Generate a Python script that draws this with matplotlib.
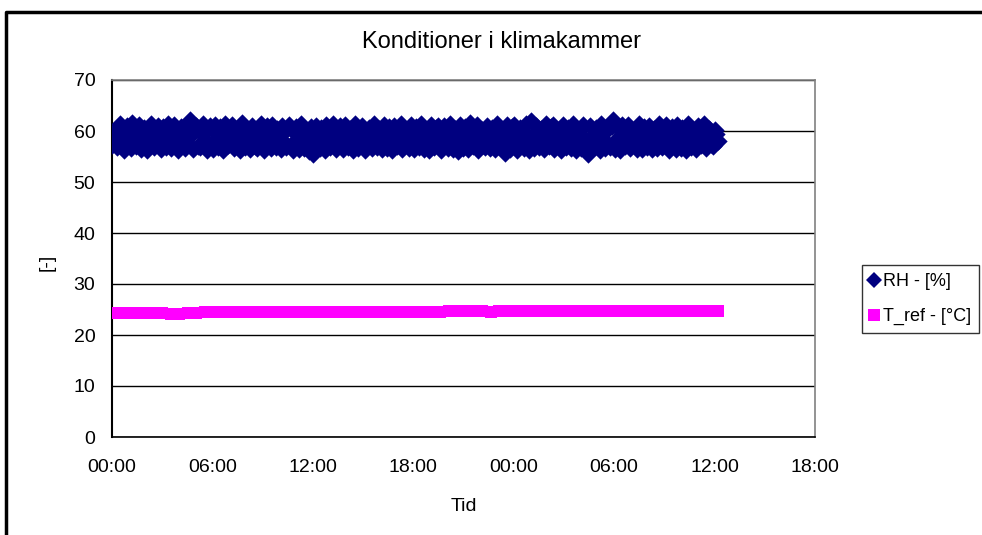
import numpy as np
import matplotlib
matplotlib.use("Agg")
import matplotlib.pyplot as plt
from matplotlib.lines import Line2D

# ---- data ----
rh_values = [
    57.2, 59.8, 58.1, 56.9, 60.4, 61.3, 57.6, 56.2, 59.1, 60.9, 58.4, 56.7, 61.5, 59.3, 57.0, 58.8, 61.2, 56.5, 59.7, 60.6, 57.8, 56.3, 60.1, 61.4, 58.0, 56.8, 59.5, 61.0, 57.3, 56.4, 60.7, 59.0, 56.9, 61.3, 58.6, 56.6, 60.2, 61.1, 57.4, 56.2, 59.9, 60.8, 58.3, 56.7, 61.2,
    57.5, 62.2, 59.2, 56.4, 60.5, 61.0, 57.1, 56.8, 59.6, 61.3, 58.2, 56.3, 60.3, 60.9, 57.7, 56.5, 61.1, 59.4, 56.9, 60.7, 58.5, 56.2, 61.4, 59.0, 57.2, 60.6, 61.2, 56.6, 58.9, 60.1, 57.5, 56.3, 61.5, 59.7, 56.8, 60.4, 58.1, 56.4, 61.0, 59.8, 57.0, 56.7, 60.8, 61.3, 58.6,
    56.3, 59.5, 60.9, 57.4, 56.6, 61.2, 58.7, 56.9, 60.3, 59.1, 56.4, 61.0, 57.9, 56.8, 60.6, 61.1, 57.3, 56.2, 59.8, 60.7, 58.0, 56.5, 61.3, 59.4, 56.7, 60.2, 57.6, 56.1, 60.8, 55.4, 58.9, 61.0, 57.1, 56.6, 60.5, 59.6, 56.3, 61.2, 58.3, 56.9, 60.0, 61.4, 57.5, 56.4, 59.3,
    60.9, 58.0, 56.5, 61.1, 59.7, 56.8, 60.4, 57.2, 56.3, 61.3, 58.8, 56.7, 60.1, 61.0, 57.6, 56.2, 59.5, 60.6, 58.2, 56.6, 61.4, 59.0, 56.9, 60.3, 57.8, 56.4, 61.2, 59.9, 56.6, 60.7, 58.4, 56.3, 61.0, 59.2, 57.0, 60.5, 61.3, 56.5, 58.7, 60.2, 57.3, 56.7, 61.1, 59.6, 56.4,
    60.8, 58.1, 56.9, 61.4, 59.3, 56.5, 60.0, 57.9, 56.2, 61.2, 58.6, 56.8, 60.6, 61.0, 57.4, 56.3, 59.9, 60.9, 58.3, 56.6, 61.3, 59.1, 56.4, 60.4, 57.7, 56.1, 61.1, 59.8, 56.7, 60.7, 58.5, 56.5, 61.5, 59.4, 57.1, 60.3, 61.2, 56.3, 58.8, 60.1, 57.2, 56.8, 61.0, 59.7, 56.6,
    60.5, 58.0, 56.4, 61.3, 59.5, 56.9, 60.2, 57.6, 55.6, 61.1, 58.7, 56.5, 60.8, 61.2, 57.3, 56.2, 59.6, 60.6, 58.4, 56.7, 61.4, 59.2, 56.3, 62.0, 57.9, 56.6, 61.0, 59.9, 56.8, 60.4, 58.2, 56.4, 61.3, 59.0, 57.0, 60.7, 61.1, 56.5, 58.9, 60.0, 57.5, 56.2, 61.2, 59.6, 56.9,
    60.6, 58.3, 56.6, 61.4, 59.1, 56.3, 60.1, 57.8, 56.7, 61.2, 58.5, 56.4, 55.5, 60.9, 57.2, 56.8, 59.7, 60.5, 58.1, 56.2, 61.3, 59.4, 56.6, 60.3, 57.4, 56.9, 61.0, 62.1, 56.5, 60.8, 58.6, 56.3, 61.1, 59.3, 57.1, 60.4, 61.2, 56.7, 58.8, 60.2, 57.6, 56.4, 61.4, 59.8, 56.5,
    60.7, 58.2, 56.8, 61.0, 59.5, 56.4, 60.3, 57.7, 56.6, 61.3, 58.4, 56.9, 60.5, 61.1, 57.3, 56.3, 59.9, 60.8, 58.0, 56.5, 61.2, 59.2, 56.7, 60.6, 57.9, 56.2, 61.4, 59.6, 56.8, 60.0, 58.7, 56.4, 61.0, 59.1, 57.2, 60.9, 61.3, 56.6, 58.3, 60.4, 57.5, 57.0, 60.2, 59.4, 58.1,
]

t_ref_values = [
    24.35, 24.35, 24.35, 24.35, 24.35, 24.35, 24.35, 24.15, 24.15, 24.35,
    24.35, 24.5, 24.5, 24.5, 24.5, 24.5, 24.5, 24.5, 24.5, 24.5,
    24.5, 24.5, 24.5, 24.5, 24.5, 24.5, 24.5, 24.5, 24.5, 24.5,
    24.5, 24.5, 24.5, 24.5, 24.5, 24.5, 24.5, 24.5, 24.5, 24.45,
    24.75, 24.7, 24.7, 24.65, 24.7, 24.6, 24.75, 24.75, 24.75, 24.75,
    24.75, 24.75, 24.75, 24.75, 24.75, 24.75, 24.75, 24.75, 24.75, 24.75,
    24.75, 24.75, 24.75, 24.75, 24.75, 24.75, 24.75, 24.75, 24.75, 24.75,
    24.75, 24.75, 24.75,
]

# measurement period: 00:00 day 1 to about 12:12 day 2 (hours)
t_start_h, t_end_h = 0.0, 36.2
rh_hours = np.linspace(t_start_h, t_end_h, len(rh_values))
tref_hours = np.linspace(t_start_h, t_end_h, len(t_ref_values))

x_ticks = [0, 6, 12, 18, 24, 30, 36, 42]
x_tick_labels = ["00:00", "06:00", "12:00", "18:00", "00:00", "06:00", "12:00", "18:00"]
y_ticks = [0, 10, 20, 30, 40, 50, 60, 70]

title = "Konditioner i klimakammer"
x_label = "Tid"
y_label = "[-]"
rh_label = "RH - [%]"
tref_label = "T_ref - [°C]"

# ---- figure ----
plt.rcParams["font.family"] = ["Liberation Sans", "DejaVu Sans"]
W, H = 982, 535
fig = plt.figure(figsize=(W / 100, H / 100), dpi=100)

ax = fig.add_axes([112 / W, 1 - 437 / H, (815 - 112) / W, (437 - 80) / H])

ax.plot(rh_hours, rh_values, linestyle="none", marker="D", markersize=7,
        color="#000080", markeredgewidth=2.2, label=rh_label, zorder=3)
ax.plot(tref_hours, t_ref_values, linestyle="none", marker="s", markersize=8,
        color="#FF00FF", markeredgewidth=0, label=tref_label, zorder=3)

ax.set_xlim(0, 42)
ax.set_ylim(0, 70)
ax.set_xticks(x_ticks)
ax.set_xticklabels(x_tick_labels)
ax.set_yticks(y_ticks)
ax.tick_params(axis="both", length=0, labelsize=14)
ax.tick_params(axis="x", pad=16)
ax.tick_params(axis="y", pad=12)

ax.grid(axis="y", color="black", linewidth=1.0, zorder=1)
ax.set_axisbelow(True)
for side in ("top", "right", "bottom"):
    ax.spines[side].set_color("#808080")
    ax.spines[side].set_linewidth(1.2)
ax.spines["left"].set_color("black")
ax.spines["left"].set_linewidth(1.5)
ax.spines["bottom"].set_color("black")

fig.text(501 / W, 1 - 42 / H, title, fontsize=17, ha="center", va="center")
ax.set_xlabel(x_label, fontsize=14, labelpad=16)
ax.set_ylabel(y_label, fontsize=14)
ax.yaxis.set_label_coords((56 - 112) / 703, (437 - 262) / 357)

leg = fig.legend(loc="upper left", bbox_to_anchor=(862 / W, 1 - 265 / H),
                 frameon=True, fancybox=False, fontsize=13, handlelength=0.4,
                 handletextpad=0.3, borderpad=0.45, labelspacing=1.0,
                 borderaxespad=0)
leg.get_frame().set_edgecolor("black")
leg.get_frame().set_linewidth(1.0)
for h in leg.legend_handles:
    h.set_markeredgewidth(0)
    h.set_markersize(8)

# outer chart-area frame
fig.add_artist(Line2D([6 / W, 6 / W, 1.0], [0.0, 1 - 12 / H, 1 - 12 / H],
                      transform=fig.transFigure, color="black", linewidth=2.5))

fig.savefig("out.png", dpi=100)
